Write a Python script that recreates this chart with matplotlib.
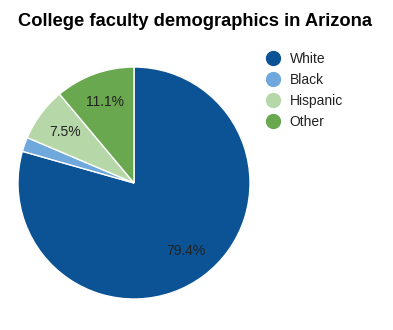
import matplotlib
matplotlib.use("Agg")
import matplotlib.pyplot as plt
from matplotlib.lines import Line2D

# data
groups = ["White", "Black", "Hispanic", "Other"]
shares = [79.4, 2.0, 7.5, 11.1]
colors = ["#0b5394", "#6fa8dc", "#b6d7a8", "#6aa84f"]

plt.rcParams["font.family"] = ["Liberation Sans", "DejaVu Sans"]

W, H = 393, 330
fig = plt.figure(figsize=(W / 100, H / 100), dpi=100)

# pie centre (134, 183) px, radius 116 px
cx, cy, r = 134, 183, 116
ax = fig.add_axes(((cx - r) / W, (H - cy - r) / H, 2 * r / W, 2 * r / H))

def pct_label(p):
    return "%.1f%%" % p if p > 5 else ""

wedges, texts, autotexts = ax.pie(
    shares, colors=colors, startangle=90, counterclock=False,
    autopct=pct_label, pctdistance=0.74,
    wedgeprops=dict(edgecolor="white", linewidth=1),
    textprops=dict(fontsize=10, color="#222222"))
ax.set_xlim(-1, 1)
ax.set_ylim(-1, 1)
ax.set_aspect("auto")
ax.axis("off")

fig.text(18 / W, 1 - 21 / H, "College faculty demographics in Arizona",
         fontsize=13.2, fontweight="bold", va="center", ha="left")

handles = [Line2D([], [], marker="o", linestyle="none", markersize=10,
                  markerfacecolor=c, markeredgecolor=c) for c in colors]
fig.legend(handles, groups, loc="upper left",
           bbox_to_anchor=(259 / W, 1 - 46 / H), frameon=False,
           fontsize=10, handletextpad=0.6, labelspacing=0.52,
           handlelength=1.2, borderaxespad=0, labelcolor="#222222")

fig.savefig("out.png", dpi=100)
